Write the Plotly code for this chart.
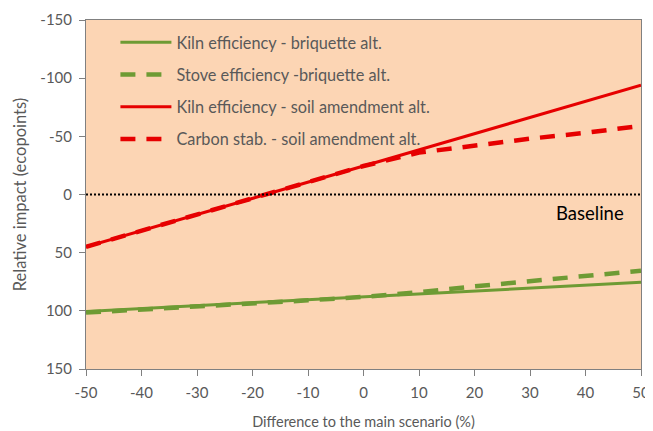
import plotly.graph_objects as go

x_pct = [-50, -40, -30, -20, -10, 0, 10, 20, 30, 40, 50]
x_ticktext = ["-50", "-40", "-30", "-20", "-10", "0", "10", "20", "30", "40", "50"]
y_tickvals = [-150, -100, -50, 0, 50, 100, 150]
y_ticktext = ["-150", "-100", "-50", "0", "50", "100", "150"]
kiln_briquette = [100.5, 98, 95.5, 93, 90.5, 88, 85.5, 83, 80.5, 78, 75.5]
stove_briquette = [101.5, 99, 96.5, 93.5, 91, 88, 84, 79, 74.5, 70, 65.5]
kiln_soil = [45, 31.1, 17.2, 3.3, -10.6, -24.5, -38.4, -52.3, -66.2, -80.1, -94]
carbon_soil = [45, 31.1, 17.2, 3.3, -10.6, -24.5, -36, -42, -48, -53, -59]
baseline_x = [-50, 50]
baseline_y = [0, 0]

GREEN = "#6E9B34"
RED = "#E60000"
GREY = "#595959"
FONT = "Lato"

fig = go.Figure()
series = [
    ("Kiln efficiency - briquette alt.", kiln_briquette, GREEN, "solid", 3),
    ("Stove efficiency -briquette alt.", stove_briquette, GREEN, "15px,11px", 4.5),
    ("Kiln efficiency - soil amendment alt.", kiln_soil, RED, "solid", 3),
    ("Carbon stab. - soil amendment alt.", carbon_soil, RED, "15px,11px", 4.5),
]
for i, (name, ys, col, dash, w) in enumerate(series):
    fig.add_trace(go.Scatter(x=x_pct, y=ys, mode="lines", name=name,
                             legendgroup=f"g{i}",
                             line=dict(color=col, width=w, dash=dash)))

fig.add_trace(go.Scatter(x=baseline_x, y=baseline_y, mode="lines", showlegend=False,
                         line=dict(color="black", width=2, dash="2px,2px"),
                         hoverinfo="skip"))

fig.add_annotation(x=40.8, y=16, text="Baseline", showarrow=False,
                   font=dict(family=FONT, size=18.5, color="black"),
                   xanchor="center", yanchor="middle")

# The page body has an 8px default margin, so the figure is offset by 8px.
fig.update_layout(
    width=645, height=423,
    margin=dict(l=78, r=12, t=12, b=62, autoexpand=False),
    paper_bgcolor="white",
    plot_bgcolor="#FCD5B4",
    font=dict(family=FONT, size=14, color=GREY),
    legend=dict(x=0.053, y=0.985, xanchor="left", yanchor="top",
                bgcolor="rgba(0,0,0,0)", itemwidth=51,
                tracegroupgap=8, font=dict(family=FONT, size=16.3, color=GREY)),
    xaxis=dict(range=[-50, 50], tickmode="array",
               tickvals=x_pct, ticktext=x_ticktext,
               ticks="outside", ticklen=6, tickcolor="#808080",
               ticklabelstandoff=4,
               showline=True, linecolor="#808080", linewidth=1, mirror=True,
               showgrid=False, zeroline=False, automargin=False,
               title=dict(text="Difference to the main scenario (%)", standoff=16,
                          font=dict(size=14.5, color=GREY)),
               tickfont=dict(size=15, color=GREY)),
    yaxis=dict(range=[150, -150], tickmode="array",
               tickvals=y_tickvals, ticktext=y_ticktext,
               ticks="outside", ticklen=6, tickcolor="#808080",
               ticklabelstandoff=4,
               showline=True, linecolor="#808080", linewidth=1, mirror=True,
               showgrid=False, zeroline=False, automargin=False,
               title=dict(text="Relative impact (ecopoints)", standoff=9,
                          font=dict(size=16.5, color=GREY)),
               tickfont=dict(size=15, color=GREY)),
    showlegend=True,
)

fig.write_html("out.html")
